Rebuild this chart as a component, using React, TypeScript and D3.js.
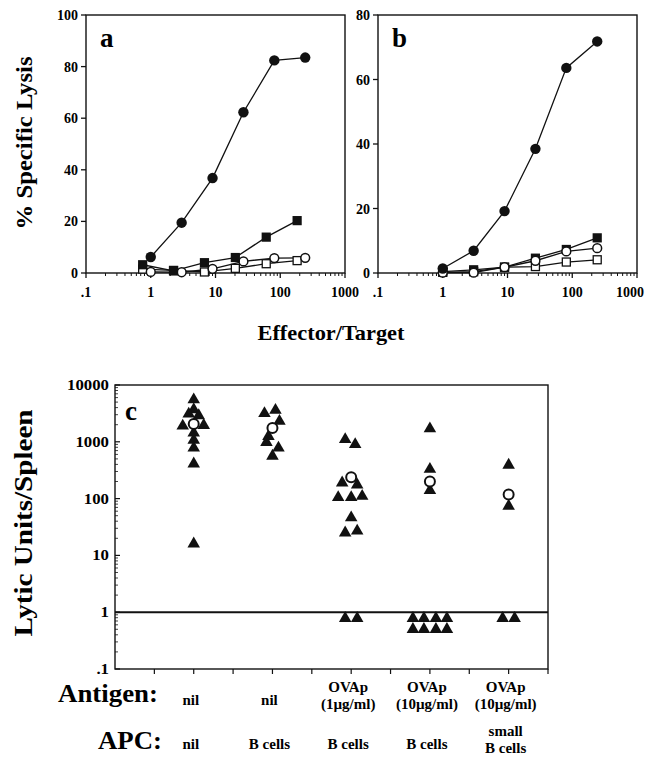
import React from 'react';
import * as d3 from 'd3';

// ---------- Panel a / b data ----------
const etCircle = [1, 3, 9, 27, 81, 243];
const etSquareA = [0.75, 2.25, 6.75, 20.25, 60.75, 182.25];
const etB = [1, 3, 9, 27, 81, 243];

const aFilledCircle = [6.2, 19.5, 36.8, 62.3, 82.4, 83.5];
const aOpenCircle = [0.4, 0.3, 1.6, 4.5, 5.8, 5.9];
const aFilledSquare = [3.2, 0.8, 4.0, 6.0, 13.9, 20.3];
const aOpenSquare = [1.5, 1.0, 0.4, 1.8, 3.6, 4.8];

const bFilledCircle = [1.4, 6.9, 19.2, 38.5, 63.6, 71.8];
const bFilledSquare = [0.4, 1.0, 1.8, 4.6, 7.3, 10.9];
const bOpenCircle = [0.1, 0.1, 1.8, 3.8, 6.7, 7.7];
const bOpenSquare = [0.2, 0.4, 1.8, 2.0, 3.4, 4.1];

const logTicks = [0.1, 1, 10, 100, 1000];
const logTickLabels = ['.1', '1', '10', '100', '1000'];
const aYTicks = [0, 20, 40, 60, 80, 100];
const bYTicks = [0, 20, 40, 60, 80];

// ---------- Panel c data ----------
const cYTicks = [0.1, 1, 10, 100, 1000, 10000];
const cYTickLabels = ['.1', '1', '10', '100', '1000', '10000'];
const cXTicks = [1, 2, 3, 4, 5, 6, 7, 8, 9, 10, 11];
const groupPos = [2, 4, 6, 8, 10];

const g1Values = [5500, 3700, 3100, 2900, 1900, 1950, 1430, 1075, 780, 410, 16];
const g1Dodge = [0, 0, -0.5, 0.5, -1.1, 1.0, 0, 0, 0, 0, 0];
const g2Values = [3150, 3600, 2300, 1250, 980, 780, 560];
const g2Dodge = [-0.8, 0.3, 0.7, -0.4, -0.6, 0.6, 0];
const g3Values = [1100, 900, 190, 175, 105, 105, 110, 46, 25, 27, 0.78, 0.78];
const g3Dodge = [-0.6, 0.4, -0.9, 0.6, -1.3, 0, 1.1, 0, -0.6, 0.6, -0.6, 0.6];
const g4Values = [1700, 330, 140, 0.78, 0.78, 0.78, 0.78, 0.5, 0.5, 0.5, 0.5];
const g4Dodge = [0, 0, 0, -1.7, -0.6, 0.6, 1.7, -1.7, -0.6, 0.6, 1.7];
const g5Values = [390, 74, 0.78, 0.78];
const g5Dodge = [0, 0, -0.6, 0.6];
const groupMeans = [2050, 1750, 237, 200, 118];

const antigenLabels = [['nil'], ['nil'], ['OVAp', '(1\u00b5g/ml)'], ['OVAp', '(10\u00b5g/ml)'], ['OVAp', '(10\u00b5g/ml)']];
const apcLabels = [['nil'], ['B cells'], ['B cells'], ['B cells'], ['small', 'B cells']];

const FONT = '"Liberation Serif", "Times New Roman", serif';

type Series = { xs: number[]; ys: number[]; kind: 'fc' | 'oc' | 'fs' | 'os' };

function LysisPanel(props: {
  left: number; right: number; top: number; bottom: number; yMax: number;
  yTicks: number[]; letter: string; series: Series[];
}) {
  const { left, right, top, bottom, yMax, yTicks, letter, series } = props;
  const x = d3.scaleLog().domain([0.1, 1000]).range([left, right]);
  const y = d3.scaleLinear().domain([0, yMax]).range([bottom, top]);
  const minor: number[] = [];
  [0.1, 1, 10, 100].forEach((d) => { for (let k = 2; k <= 9; k++) minor.push(d * k); });
  const line = d3.line<[number, number]>().x((d) => x(d[0])).y((d) => y(d[1]));
  return (
    <g>
      <rect x={left} y={top} width={right - left} height={bottom - top} fill="none" stroke="#111" strokeWidth={1.4} />
      {logTicks.map((t, i) => {
        const tx = x(t);
        const overflow = tx + 16 > 645;
        return (
          <g key={'xt' + i}>
            <line x1={tx} x2={tx} y1={bottom} y2={bottom + 5} stroke="#111" strokeWidth={1.3} />
            <text x={overflow ? 644 : tx} y={bottom + 24} textAnchor={overflow ? 'end' : 'middle'} fontFamily={FONT} fontWeight="bold" fontSize={14}>{logTickLabels[i]}</text>
          </g>
        );
      })}
      {minor.map((t, i) => (
        <line key={'mt' + i} x1={x(t)} x2={x(t)} y1={bottom} y2={bottom + 3} stroke="#111" strokeWidth={1} />
      ))}
      {yTicks.map((t, i) => (
        <g key={'yt' + i}>
          <line x1={left - 5} x2={left} y1={y(t)} y2={y(t)} stroke="#111" strokeWidth={1.3} />
          <text x={left - 8} y={y(t) + 5} textAnchor="end" fontFamily={FONT} fontWeight="bold" fontSize={14}>{t}</text>
        </g>
      ))}
      <text x={left + 14} y={top + 32} fontFamily={FONT} fontWeight="bold" fontSize={27}>{letter}</text>
      {series.map((s, si) => (
        <path key={'l' + si} d={line(s.xs.map((v, i) => [v, s.ys[i]] as [number, number])) || ''} fill="none" stroke="#111" strokeWidth={1.3} />
      ))}
      {series.map((s, si) => (
        <g key={'m' + si}>
          {s.xs.map((v, i) => {
            const cx = x(v), cy = y(s.ys[i]);
            if (s.kind === 'fc') return <circle key={i} cx={cx} cy={cy} r={5.2} fill="#111" />;
            if (s.kind === 'oc') return <circle key={i} cx={cx} cy={cy} r={4.4} fill="#fff" stroke="#111" strokeWidth={1.5} />;
            if (s.kind === 'fs') return <rect key={i} x={cx - 4.6} y={cy - 4.6} width={9.2} height={9.2} fill="#111" />;
            return <rect key={i} x={cx - 4} y={cy - 4} width={8} height={8} fill="#fff" stroke="#111" strokeWidth={1.3} />;
          })}
        </g>
      ))}
    </g>
  );
}

function PanelC() {
  const left = 115, right = 548, top = 385, bottom = 669;
  const x = d3.scaleLinear().domain([0, 11]).range([left, right]);
  const y = d3.scaleLog().domain([0.1, 10000]).range([bottom, top]);
  const tri = d3.symbol(d3.symbolTriangle, 68)() || '';
  const dodgeUnit = 10;
  const groups = [
    { v: g1Values, d: g1Dodge }, { v: g2Values, d: g2Dodge }, { v: g3Values, d: g3Dodge },
    { v: g4Values, d: g4Dodge }, { v: g5Values, d: g5Dodge },
  ];
  const minor: number[] = [];
  [0.1, 1, 10, 100, 1000].forEach((d) => { for (let k = 2; k <= 9; k++) minor.push(d * k); });
  return (
    <g>
      <rect x={left} y={top} width={right - left} height={bottom - top} fill="none" stroke="#111" strokeWidth={1.4} />
      <line x1={left} x2={right} y1={y(1)} y2={y(1)} stroke="#111" strokeWidth={2} />
      {cXTicks.map((t) => (
        <line key={'cx' + t} x1={x(t)} x2={x(t)} y1={bottom} y2={bottom + 5} stroke="#111" strokeWidth={1.2} />
      ))}
      {cYTicks.map((t, i) => (
        <g key={'cy' + i}>
          <line x1={left} x2={left + 5} y1={y(t)} y2={y(t)} stroke="#111" strokeWidth={1.2} />
          <text x={left - 6} y={y(t) + 5} textAnchor="end" fontFamily={FONT} fontWeight="bold" fontSize={14}
            transform={`translate(${left - 6},0) scale(1.2,1) translate(${-(left - 6)},0)`}>{cYTickLabels[i]}</text>
        </g>
      ))}
      {minor.map((t, i) => (
        <line key={'cm' + i} x1={left} x2={left + 3} y1={y(t)} y2={y(t)} stroke="#111" strokeWidth={0.8} />
      ))}
      <text x={125} y={420} fontFamily={FONT} fontWeight="bold" fontSize={27}>c</text>
      {groups.map((g, gi) => (
        <g key={'g' + gi}>
          {g.v.map((v, i) => (
            <path key={i} d={tri} transform={`translate(${x(groupPos[gi]) + g.d[i] * dodgeUnit},${y(v)})`} fill="#111" />
          ))}
          <circle cx={x(groupPos[gi])} cy={y(groupMeans[gi])} r={5} fill="#fff" stroke="#111" strokeWidth={2} />
        </g>
      ))}
      <text x={158} y={702} textAnchor="end" fontFamily={FONT} fontWeight="bold" fontSize={25}
        textLength={100} lengthAdjust="spacingAndGlyphs">Antigen:</text>
      <text x={162} y={749} textAnchor="end" fontFamily={FONT} fontWeight="bold" fontSize={25}
        textLength={64} lengthAdjust="spacingAndGlyphs">APC:</text>
      {antigenLabels.map((lines, gi) => (
        <g key={'al' + gi}>
          {lines.map((s, li) => (
            <text key={li} x={x(groupPos[gi]) - 3} y={lines.length === 1 ? 705 : 692 + li * 17} textAnchor="middle"
              fontFamily={FONT} fontWeight="bold" fontSize={15}>{s}</text>
          ))}
        </g>
      ))}
      {apcLabels.map((lines, gi) => (
        <g key={'pl' + gi}>
          {lines.map((s, li) => (
            <text key={li} x={x(groupPos[gi]) - 3} y={lines.length === 1 ? 749 : 736 + li * 17} textAnchor="middle"
              fontFamily={FONT} fontWeight="bold" fontSize={15}>{s}</text>
          ))}
        </g>
      ))}
    </g>
  );
}

export default function App() {
  const seriesA: Series[] = [
    { xs: etSquareA, ys: aOpenSquare, kind: 'os' },
    { xs: etCircle, ys: aOpenCircle, kind: 'oc' },
    { xs: etSquareA, ys: aFilledSquare, kind: 'fs' },
    { xs: etCircle, ys: aFilledCircle, kind: 'fc' },
  ];
  const seriesB: Series[] = [
    { xs: etB, ys: bOpenSquare, kind: 'os' },
    { xs: etB, ys: bFilledSquare, kind: 'fs' },
    { xs: etB, ys: bOpenCircle, kind: 'oc' },
    { xs: etB, ys: bFilledCircle, kind: 'fc' },
  ];
  return (
    <svg width={646} height={758} style={{ position: 'absolute', left: 0, top: 0, background: '#fff' }}>
      <rect x={0} y={0} width={646} height={758} fill="#fff" />
      <LysisPanel left={86} right={345} top={15} bottom={273} yMax={100} yTicks={aYTicks} letter="a" series={seriesA} />
      <LysisPanel left={378} right={637} top={15} bottom={273} yMax={80} yTicks={bYTicks} letter="b" series={seriesB} />
      <text transform="translate(32,143) rotate(-90)" textAnchor="middle" fontFamily={FONT} fontWeight="bold" fontSize={24}
        textLength={173} lengthAdjust="spacingAndGlyphs">% Specific Lysis</text>
      <text x={331} y={340} textAnchor="middle" fontFamily={FONT} fontWeight="bold" fontSize={21}
        textLength={147} lengthAdjust="spacingAndGlyphs">Effector/Target</text>
      <text transform="translate(32,523) rotate(-90)" textAnchor="middle" fontFamily={FONT} fontWeight="bold" fontSize={25}
        textLength={227} lengthAdjust="spacingAndGlyphs">Lytic Units/Spleen</text>
      <PanelC />
    </svg>
  );
}
